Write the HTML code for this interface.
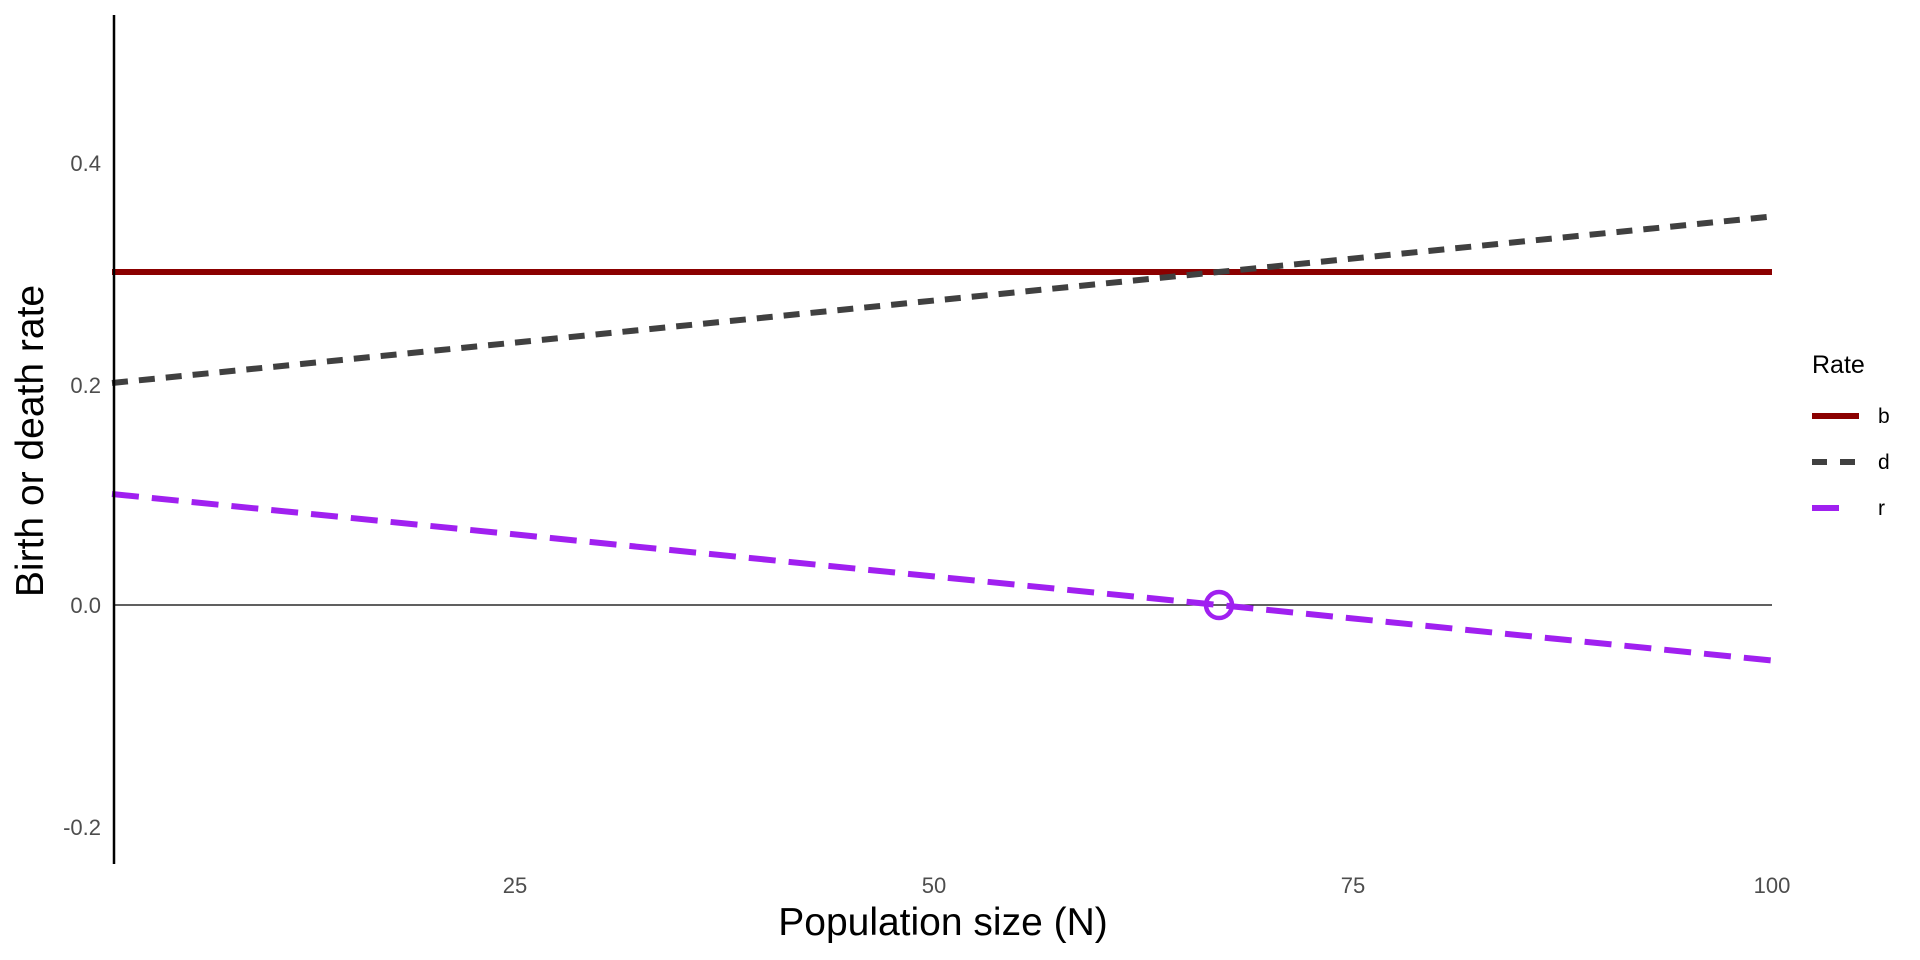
<!DOCTYPE html>
<html><head><meta charset="utf-8"><style>
html,body{margin:0;padding:0;background:#fff;}
svg{display:block;font-family:"Liberation Sans",sans-serif;}
</style></head><body>
<svg width="1920" height="960" viewBox="0 0 1920 960" xmlns="http://www.w3.org/2000/svg">
<rect width="1920" height="960" fill="#fff"/>
<line x1="114" y1="605" x2="1772" y2="605" stroke="#000" stroke-width="1.2"/>
<line x1="112" y1="272" x2="1772" y2="272" stroke="#8b0000" stroke-width="6"/>
<line x1="112" y1="383" x2="1772" y2="216.5" stroke="#404040" stroke-width="6" stroke-dasharray="16 11"/>
<line x1="112" y1="494" x2="1772" y2="660.5" stroke="#a020f0" stroke-width="6" stroke-dasharray="27 13"/>
<circle cx="1219" cy="605" r="13" fill="none" stroke="#a020f0" stroke-width="4.5"/>
<line x1="114" y1="15" x2="114" y2="864" stroke="#000" stroke-width="2.5"/>
<g fill="#4d4d4d" font-size="22" text-anchor="end">
<text x="101" y="171">0.4</text>
<text x="101" y="393">0.2</text>
<text x="101" y="613">0.0</text>
<text x="101" y="835">-0.2</text>
</g>
<g fill="#4d4d4d" font-size="22" text-anchor="middle">
<text x="515" y="893">25</text>
<text x="934" y="893">50</text>
<text x="1353" y="893">75</text>
<text x="1772" y="893">100</text>
</g>
<text x="943" y="935" font-size="39" text-anchor="middle" fill="#000">Population size (N)</text>
<text transform="translate(43,441) rotate(-90)" font-size="39" text-anchor="middle" fill="#000">Birth or death rate</text>
<text x="1812" y="373" font-size="25" fill="#000">Rate</text>
<line x1="1812" y1="416" x2="1859" y2="416" stroke="#8b0000" stroke-width="6"/>
<line x1="1812" y1="462" x2="1859" y2="462" stroke="#404040" stroke-width="6" stroke-dasharray="15 13"/>
<line x1="1812" y1="508" x2="1859" y2="508" stroke="#a020f0" stroke-width="6" stroke-dasharray="27 20"/>
<g font-size="21" fill="#000">
<text x="1878" y="423">b</text>
<text x="1878" y="469">d</text>
<text x="1878" y="515">r</text>
</g>
</svg>
</body></html>
